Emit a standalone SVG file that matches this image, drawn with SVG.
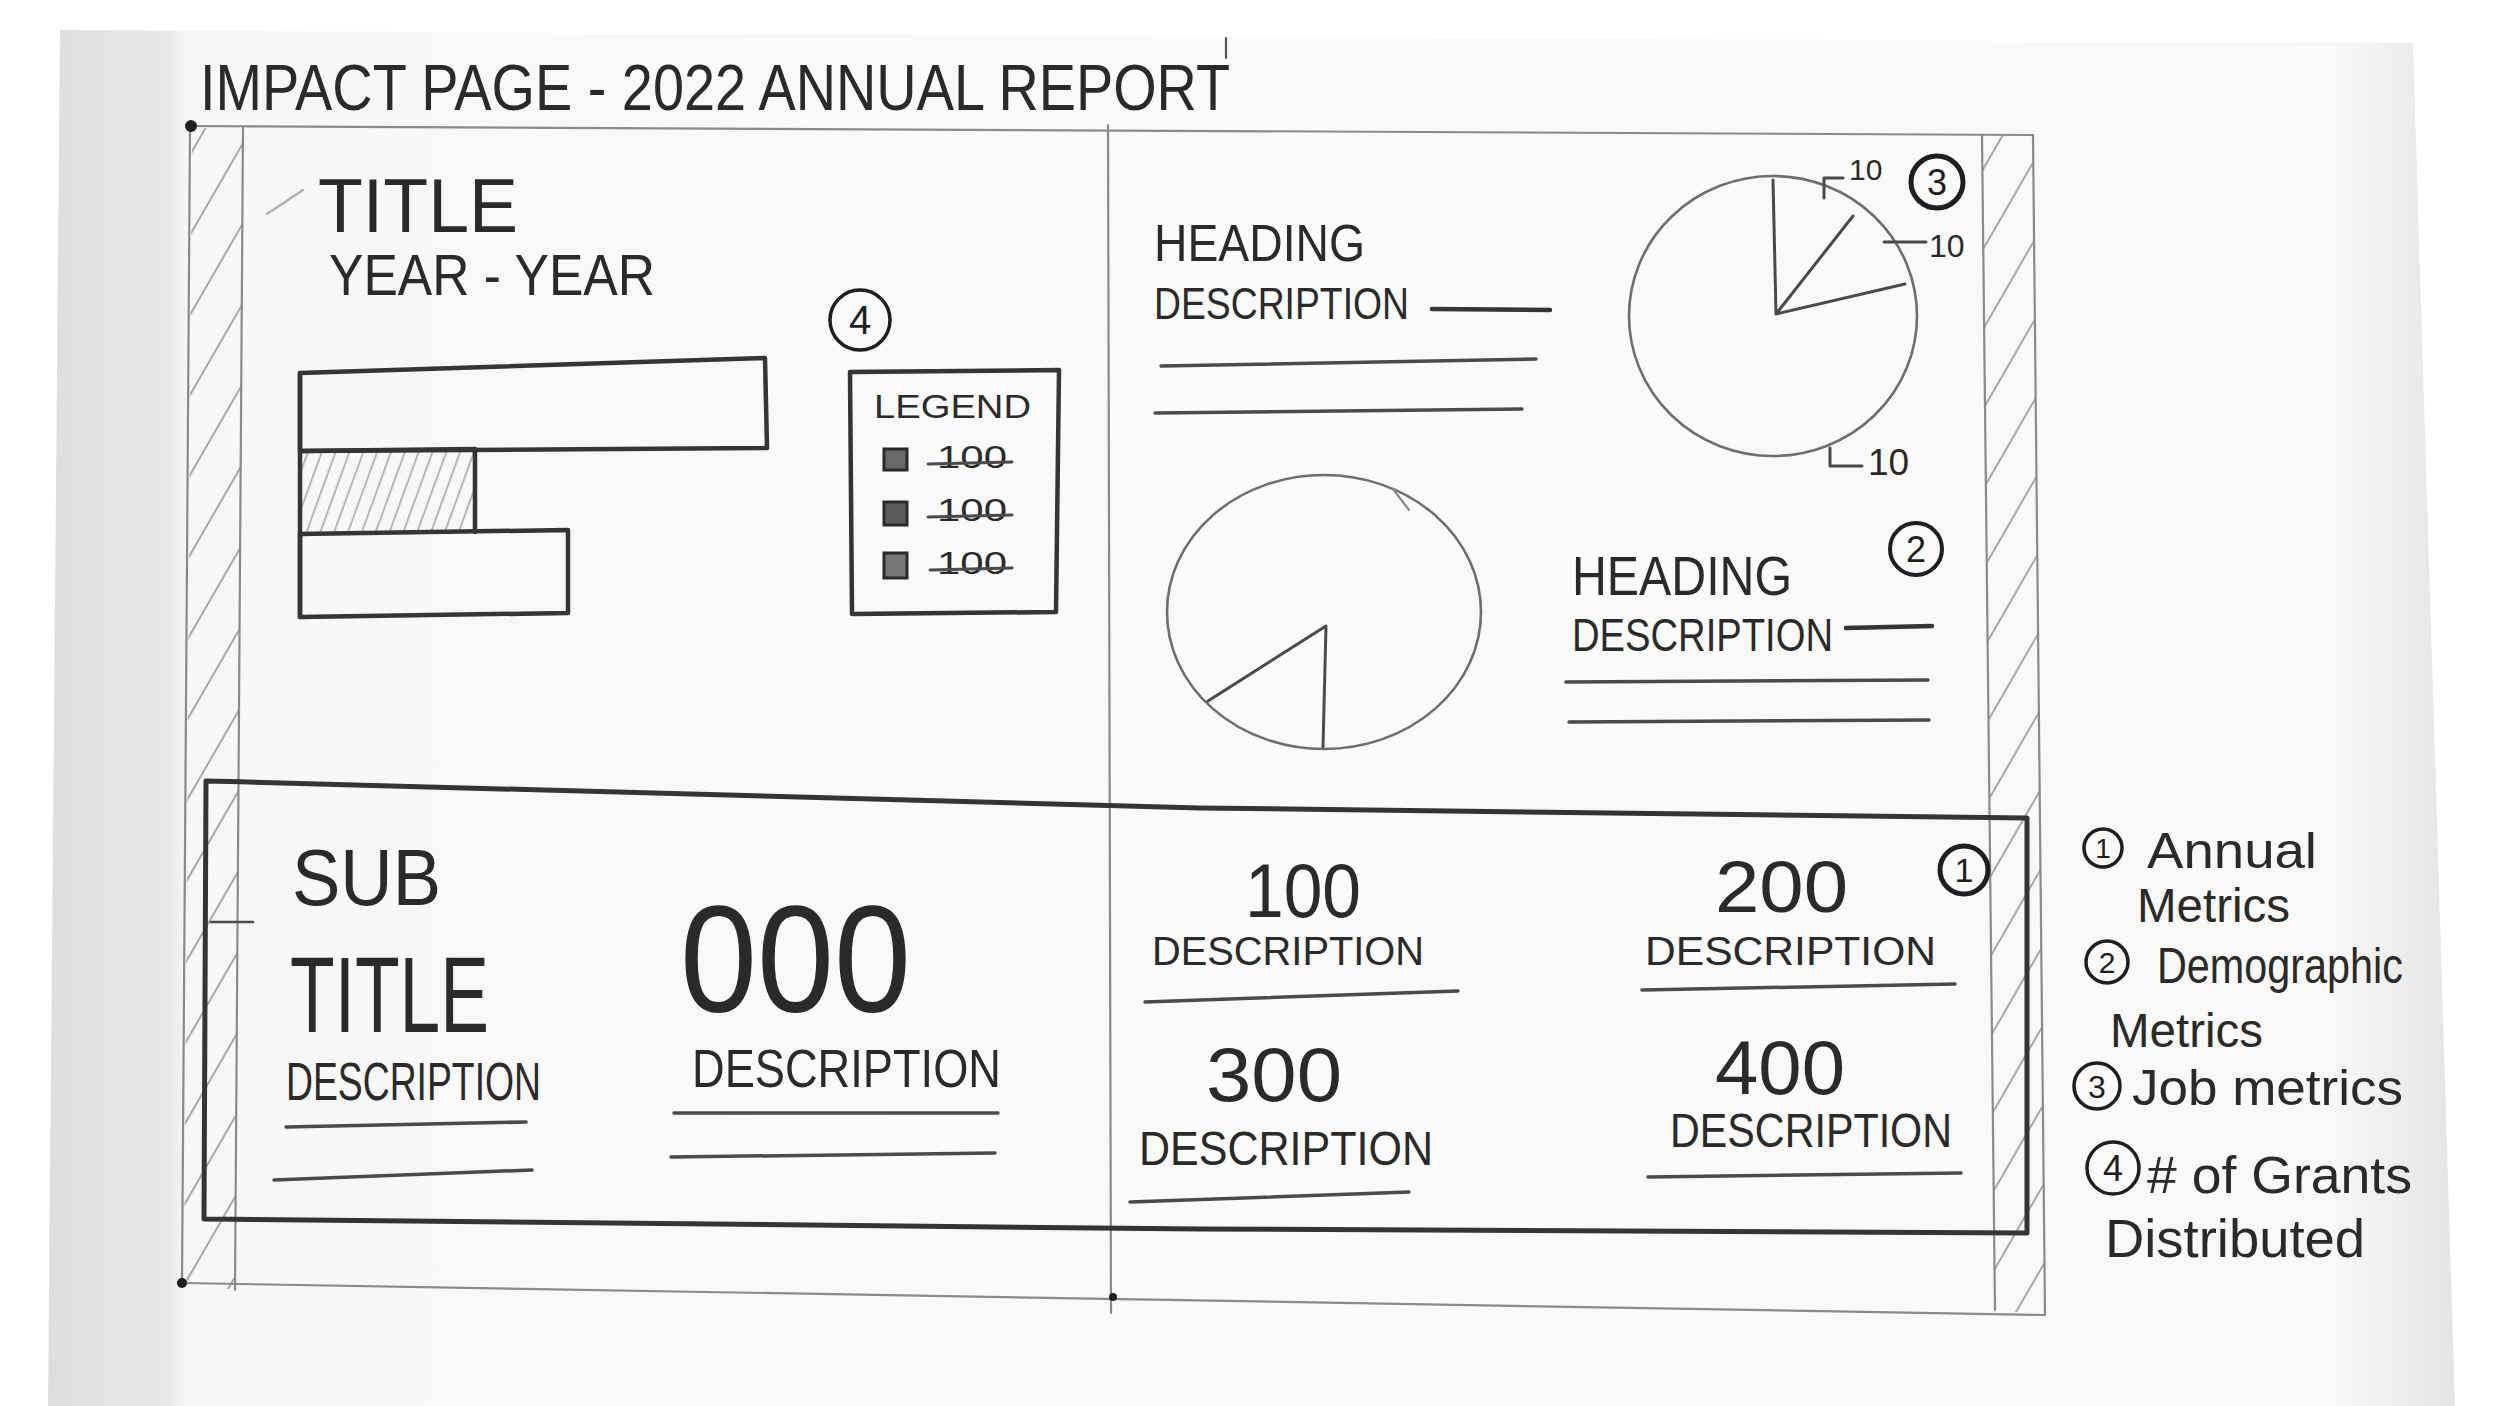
<svg xmlns="http://www.w3.org/2000/svg" width="2500" height="1406" viewBox="0 0 2500 1406">
<defs>
<linearGradient id="paperGrad" x1="0" y1="0" x2="1" y2="0">
<stop offset="0" stop-color="#dedede"/>
<stop offset="0.05" stop-color="#e8e8e8"/>
<stop offset="0.058" stop-color="#f7f7f7"/>
<stop offset="0.5" stop-color="#fafafa"/>
<stop offset="0.95" stop-color="#f8f8f6"/>
<stop offset="1" stop-color="#e4e4e4"/>
</linearGradient>
<pattern id="hatch" width="40" height="100" patternUnits="userSpaceOnUse" patternTransform="rotate(30)">
<line x1="2" y1="0" x2="2" y2="100" stroke="#a8a8a8" stroke-width="2"/>
</pattern>
<pattern id="hatchDense" width="13" height="100" patternUnits="userSpaceOnUse" patternTransform="rotate(20)">
<line x1="2" y1="0" x2="2" y2="100" stroke="#b8b8b8" stroke-width="2"/>
</pattern>
<style>
.pencil{stroke:#8a8a8a;stroke-width:2.2;fill:none;stroke-linecap:round;stroke-linejoin:round}
.ink{stroke:#353535;stroke-width:4.5;fill:none;stroke-linecap:round;stroke-linejoin:round}
.inkm{stroke:#4a4a4a;stroke-width:3.5;fill:none;stroke-linecap:round;stroke-linejoin:round}
.circ{stroke:#1e1e1e;stroke-width:4.5;fill:none}
.t{font-family:"Liberation Sans",Arial,sans-serif;fill:#2a2a2a}
.n{font-family:"Liberation Sans",Arial,sans-serif;fill:#1e1e1e;text-anchor:middle}
</style>
</defs>

<g id="paper">
<rect x="0" y="0" width="2500" height="1406" fill="#ffffff"/>
<polygon points="60,30 2413,43 2455,1406 48,1406" fill="url(#paperGrad)"/>
</g>

<g id="page-title">
<text class="t" x="200" y="110" font-size="64" textLength="1030" lengthAdjust="spacingAndGlyphs">IMPACT PAGE - 2022 ANNUAL REPORT</text>
<line class="pencil" x1="1226" y1="38" x2="1226" y2="58" style="stroke:#555"/>
</g>

<g id="frame">
<polygon points="192,128 243,128 235,1290 184,1283" fill="url(#hatch)"/>
<polygon points="1982,135 2033,135 2045,1315 1995,1310" fill="url(#hatch)"/>
<path class="pencil" d="M190,126 L2033,135"/>
<path class="pencil" d="M190,126 L182,1283"/>
<path class="pencil" d="M243,128 L235,1290"/>
<path class="pencil" d="M182,1283 L2045,1315"/>
<path class="pencil" d="M2033,135 L2045,1315"/>
<path class="pencil" d="M1982,135 L1995,1310"/>
<path class="pencil" d="M1108,125 L1111,1313"/>
<circle cx="191" cy="126" r="6" fill="#1e1e1e"/>
<circle cx="182" cy="1283" r="5" fill="#1e1e1e"/>
<circle cx="1113" cy="1297" r="4" fill="#1e1e1e"/>
</g>

<g id="grants-section">
<path class="pencil" d="M303,190 L267,214" style="stroke:#b0b0b0"/>
<text class="t" x="318" y="232" font-size="76" textLength="200" lengthAdjust="spacingAndGlyphs">TITLE</text>
<text class="t" x="329" y="295" font-size="58" textLength="326" lengthAdjust="spacingAndGlyphs">YEAR - YEAR</text>
<circle class="circ" cx="860" cy="320" r="30" style="stroke-width:3.5"/>
<text class="n" x="860" y="334" font-size="40">4</text>
<polygon points="300,451 475,449 475,532 300,534" fill="url(#hatchDense)"/>
<path class="ink" d="M300,373 L765,358 L767,448 L300,451 Z"/>
<path class="ink" d="M300,451 L475,449 L475,532"/>
<path class="ink" d="M300,534 L568,530 L568,613 L300,617 Z"/>
<path class="ink" d="M300,373 L300,617"/>
<path class="ink" d="M850,372 L1059,370 L1056,612 L852,614 Z"/>
<text class="t" x="874" y="418" font-size="34" textLength="157" lengthAdjust="spacingAndGlyphs">LEGEND</text>
<rect x="884" y="449" width="23" height="21" fill="#6a6a6a" stroke="#2a2a2a" stroke-width="3"/>
<rect x="884" y="502" width="23" height="23" fill="#5a5a5a" stroke="#2a2a2a" stroke-width="3"/>
<rect x="884" y="553" width="23" height="25" fill="#777" stroke="#2a2a2a" stroke-width="3"/>
<text class="t" x="937" y="468" font-size="32" textLength="70" lengthAdjust="spacingAndGlyphs">100</text>
<text class="t" x="937" y="521" font-size="32" textLength="70" lengthAdjust="spacingAndGlyphs">100</text>
<text class="t" x="937" y="574" font-size="32" textLength="70" lengthAdjust="spacingAndGlyphs">100</text>
<path class="inkm" d="M928,464 L1012,462 M928,517 L1012,515 M930,570 L1012,568" style="stroke-width:3"/>
</g>

<g id="job-section">
<text class="t" x="1154" y="261" font-size="52" textLength="211" lengthAdjust="spacingAndGlyphs">HEADING</text>
<text class="t" x="1154" y="319" font-size="44" textLength="255" lengthAdjust="spacingAndGlyphs">DESCRIPTION</text>
<path class="ink" d="M1432,309 L1550,310"/>
<path class="inkm" d="M1161,366 L1536,359"/>
<path class="inkm" d="M1155,413 L1522,409"/>
<ellipse class="pencil" cx="1773" cy="316" rx="144" ry="140" style="stroke:#6e6e6e;stroke-width:2.6"/>
<path class="inkm" d="M1773,180 L1776,314 L1853,216 M1776,314 L1905,284" style="stroke-width:3"/>
<path class="inkm" d="M1824,198 L1824,178 L1843,178" style="stroke-width:3"/>
<text class="t" x="1849" y="180" font-size="30">10</text>
<circle class="circ" cx="1937" cy="182" r="26" style="stroke-width:5"/>
<text class="n" x="1937" y="195" font-size="36">3</text>
<path class="inkm" d="M1884,242 L1926,242" style="stroke-width:3"/>
<text class="t" x="1929" y="257" font-size="32">10</text>
<path class="inkm" d="M1830,448 L1830,466 L1862,466" style="stroke-width:3"/>
<text class="t" x="1868" y="475" font-size="37">10</text>
</g>

<g id="demographic-section">
<ellipse class="pencil" cx="1324" cy="612" rx="157" ry="137" style="stroke:#6e6e6e;stroke-width:2.6"/>
<path class="inkm" d="M1208,701 L1326,626 L1323,747" style="stroke-width:3"/>
<path class="pencil" d="M1393,489 L1409,510"/>
<circle class="circ" cx="1916" cy="549" r="26" style="stroke-width:4"/>
<text class="n" x="1916" y="562" font-size="36">2</text>
<text class="t" x="1572" y="595" font-size="56" textLength="220" lengthAdjust="spacingAndGlyphs">HEADING</text>
<text class="t" x="1572" y="651" font-size="46" textLength="261" lengthAdjust="spacingAndGlyphs">DESCRIPTION</text>
<path class="ink" d="M1846,628 L1932,626"/>
<path class="inkm" d="M1566,682 L1928,680"/>
<path class="inkm" d="M1569,722 L1929,720"/>
</g>

<g id="annual-metrics-section">
<path class="ink" d="M206,781 C600,790 1000,805 1200,808 L2027,818 L2027,1233 L1200,1229 L204,1219 L206,781" style="stroke-width:5"/>
<path class="inkm" d="M211,922 L253,922" style="stroke-width:2.5"/>
<text class="t" x="292" y="905" font-size="80" textLength="149" lengthAdjust="spacingAndGlyphs">SUB</text>
<text class="t" x="290" y="1032" font-size="108" textLength="199" lengthAdjust="spacingAndGlyphs">TITLE</text>
<text class="t" x="286" y="1100" font-size="54" textLength="255" lengthAdjust="spacingAndGlyphs">DESCRIPTION</text>
<path class="inkm" d="M286,1127 L526,1122"/>
<path class="inkm" d="M274,1180 L532,1170"/>
<text class="t" x="680" y="1012" font-size="152" textLength="231" lengthAdjust="spacingAndGlyphs">000</text>
<text class="t" x="692" y="1087" font-size="54" textLength="309" lengthAdjust="spacingAndGlyphs">DESCRIPTION</text>
<path class="inkm" d="M674,1113 L998,1113"/>
<path class="inkm" d="M671,1157 L995,1153"/>
<text class="t" x="1245" y="917" font-size="76" textLength="116" lengthAdjust="spacingAndGlyphs">100</text>
<text class="t" x="1152" y="965" font-size="40" textLength="272" lengthAdjust="spacingAndGlyphs">DESCRIPTION</text>
<path class="inkm" d="M1145,1002 L1458,991"/>
<text class="t" x="1715" y="912" font-size="72" textLength="133" lengthAdjust="spacingAndGlyphs">200</text>
<text class="t" x="1645" y="965" font-size="40" textLength="291" lengthAdjust="spacingAndGlyphs">DESCRIPTION</text>
<path class="inkm" d="M1642,990 L1955,984"/>
<circle class="circ" cx="1964" cy="870" r="24" style="stroke-width:5"/>
<text class="n" x="1964" y="882" font-size="34">1</text>
<text class="t" x="1206" y="1101" font-size="76" textLength="136" lengthAdjust="spacingAndGlyphs">300</text>
<text class="t" x="1139" y="1165" font-size="48" textLength="294" lengthAdjust="spacingAndGlyphs">DESCRIPTION</text>
<path class="inkm" d="M1130,1202 L1409,1192"/>
<text class="t" x="1715" y="1094" font-size="76" textLength="130" lengthAdjust="spacingAndGlyphs">400</text>
<text class="t" x="1670" y="1147" font-size="48" textLength="282" lengthAdjust="spacingAndGlyphs">DESCRIPTION</text>
<path class="inkm" d="M1648,1177 L1961,1173"/>
</g>

<g id="key-notes">
<circle class="circ" cx="2103" cy="848" r="19" style="stroke-width:3.5"/>
<text class="n" x="2103" y="858" font-size="28">1</text>
<text class="t" x="2147" y="868" font-size="50" textLength="170" lengthAdjust="spacingAndGlyphs">Annual</text>
<text class="t" x="2137" y="922" font-size="48" textLength="153" lengthAdjust="spacingAndGlyphs">Metrics</text>
<circle class="circ" cx="2107" cy="962" r="21" style="stroke-width:3.5"/>
<text class="n" x="2107" y="973" font-size="30">2</text>
<text class="t" x="2157" y="983" font-size="50" textLength="246" lengthAdjust="spacingAndGlyphs">Demographic</text>
<text class="t" x="2110" y="1047" font-size="48" textLength="153" lengthAdjust="spacingAndGlyphs">Metrics</text>
<circle class="circ" cx="2097" cy="1086" r="23" style="stroke-width:3.5"/>
<text class="n" x="2097" y="1098" font-size="32">3</text>
<text class="t" x="2132" y="1105" font-size="50" textLength="271" lengthAdjust="spacingAndGlyphs">Job metrics</text>
<circle class="circ" cx="2113" cy="1168" r="26" style="stroke-width:3.5"/>
<text class="n" x="2113" y="1181" font-size="36">4</text>
<text class="t" x="2147" y="1193" font-size="52" textLength="265" lengthAdjust="spacingAndGlyphs"># of Grants</text>
<text class="t" x="2105" y="1257" font-size="54" textLength="260" lengthAdjust="spacingAndGlyphs">Distributed</text>
</g>
</svg>
